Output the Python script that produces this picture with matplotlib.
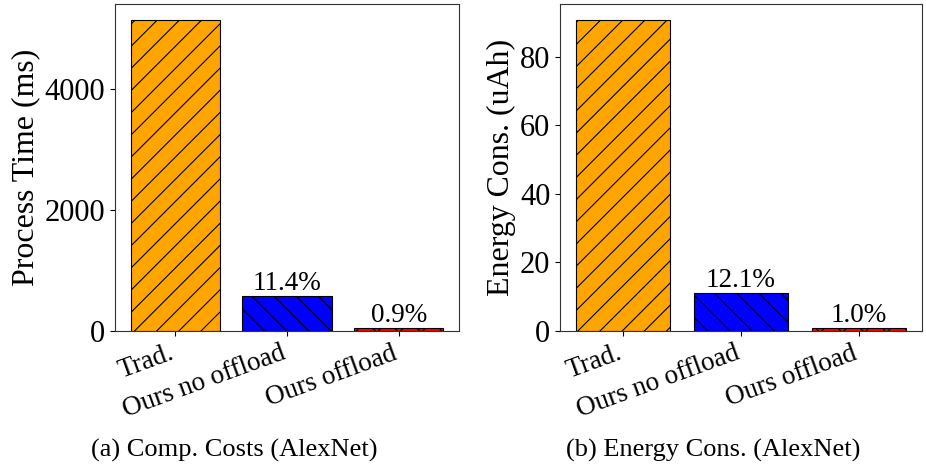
import matplotlib
matplotlib.use("Agg")
import matplotlib.pyplot as plt
import matplotlib.transforms as mtransforms

DPI = 133
S = 100 / DPI  # scale point sizes so pixel sizes match a 100-dpi layout

plt.rcParams['font.family'] = ['Liberation Serif', 'DejaVu Serif']
plt.rcParams['hatch.linewidth'] = 0.8 * S
plt.rcParams['axes.linewidth'] = 0.8 * S
for ax_ in ('xtick', 'ytick'):
    plt.rcParams[f'{ax_}.major.size'] = 3.5 * S
    plt.rcParams[f'{ax_}.major.width'] = 0.8 * S
    plt.rcParams[f'{ax_}.major.pad'] = 3.5 * S

categories = ["Trad.", "Ours no offload", "Ours offload"]
process_time = [5150, 587, 46]
energy = [90.9, 11.0, 0.91]
time_labels = ["", "11.4%", "0.9%"]
energy_labels = ["", "12.1%", "1.0%"]
colors = ["orange", "blue", "red"]
hatches = ["//", "\\\\", "xx"]

fig = plt.figure(figsize=(926 / DPI, 470 / DPI), dpi=DPI)
ax1 = fig.add_axes([115/926, 1-331/470, 344/926, 327/470])
ax2 = fig.add_axes([560/926, 1-331/470, 362/926, 327/470])

def draw(ax, vals, labels, ylabel, yticks):
    x = range(len(categories))
    bars = ax.bar(x, vals, width=0.8, color=colors, edgecolor="black", linewidth=0.8 * S)
    for b, h in zip(bars, hatches):
        b.set_hatch(h)
    for b, lab in zip(bars, labels):
        if lab:
            ax.text(b.get_x() + b.get_width()/2, b.get_height(), lab,
                    ha="center", va="bottom", fontsize=19.5 * S)
    ax.set_xticks(list(x))
    ax.set_xticklabels(categories, rotation=20, ha="right", rotation_mode="anchor",
                       fontsize=19.5 * S)
    offset = mtransforms.ScaledTranslation(-7/DPI, 0, fig.dpi_scale_trans)
    for t in ax.get_xticklabels():
        t.set_transform(t.get_transform() + offset)
    ax.set_yticks(yticks)
    ax.tick_params(axis="y", labelsize=22 * S)
    ax.set_ylabel(ylabel, fontsize=23 * S, labelpad=3 * S)
    for s in ax.spines.values():
        s.set_color("#333333")

draw(ax1, process_time, time_labels, "Process Time (ms)", [0, 2000, 4000])
draw(ax2, energy, energy_labels, "Energy Cons. (uAh)", [0, 20, 40, 60, 80])

fig.text(234/926, 1-450/470, "(a) Comp. Costs (AlexNet)", ha="center", va="center", fontsize=19 * S)
fig.text(713/926, 1-450/470, "(b) Energy Cons. (AlexNet)", ha="center", va="center", fontsize=19 * S)

fig.savefig("out.png", dpi=DPI)
